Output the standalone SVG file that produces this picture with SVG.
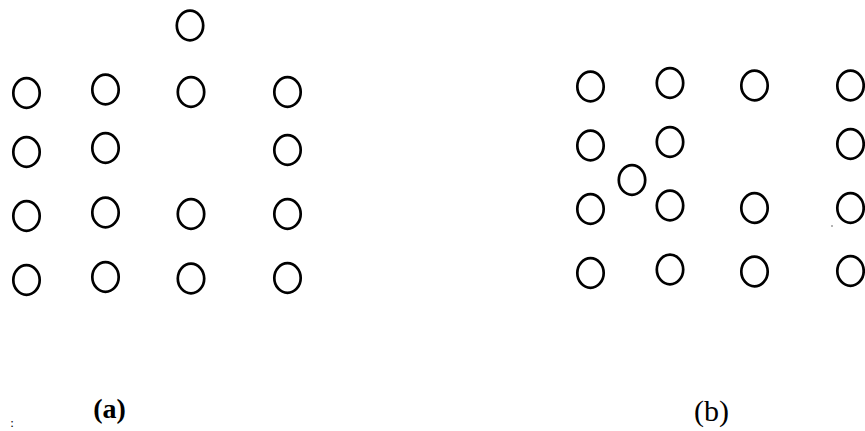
<svg xmlns="http://www.w3.org/2000/svg" width="865" height="431" viewBox="0 0 865 431">
<style>
.n{fill:none;stroke:#000;stroke-width:2.7}
.lbl{font-family:"Liberation Serif","Times New Roman",serif;fill:#000}
</style>
<rect width="865" height="431" fill="#fff"/>
<g id="panel-a">
<g id="a-top"><ellipse class="n" cx="190" cy="25.5" rx="13.2" ry="14.8"/></g>
<g id="a-r1c1"><ellipse class="n" cx="26.5" cy="93" rx="13.2" ry="14.8"/></g>
<g id="a-r1c2"><ellipse class="n" cx="105.5" cy="89.5" rx="13.2" ry="14.8"/></g>
<g id="a-r1c3"><ellipse class="n" cx="191" cy="92" rx="13.2" ry="14.8"/></g>
<g id="a-r1c4"><ellipse class="n" cx="287.5" cy="92" rx="13.2" ry="14.8"/></g>
<g id="a-r2c1"><ellipse class="n" cx="26.5" cy="152" rx="13.2" ry="14.8"/></g>
<g id="a-r2c2"><ellipse class="n" cx="105.5" cy="148" rx="13.2" ry="14.8"/></g>
<g id="a-r2c4"><ellipse class="n" cx="287.5" cy="150" rx="13.2" ry="14.8"/></g>
<g id="a-r3c1"><ellipse class="n" cx="26.5" cy="216" rx="13.2" ry="14.8"/></g>
<g id="a-r3c2"><ellipse class="n" cx="105.5" cy="212.5" rx="13.2" ry="14.8"/></g>
<g id="a-r3c3"><ellipse class="n" cx="191" cy="214" rx="13.2" ry="14.8"/></g>
<g id="a-r3c4"><ellipse class="n" cx="287.5" cy="214" rx="13.2" ry="14.8"/></g>
<g id="a-r4c1"><ellipse class="n" cx="26.5" cy="280" rx="13.2" ry="14.8"/></g>
<g id="a-r4c2"><ellipse class="n" cx="105.5" cy="277" rx="13.2" ry="14.8"/></g>
<g id="a-r4c3"><ellipse class="n" cx="191" cy="278.5" rx="13.2" ry="14.8"/></g>
<g id="a-r4c4"><ellipse class="n" cx="287.5" cy="278" rx="13.2" ry="14.8"/></g>
</g>
<g id="panel-b">
<g id="b-r1c1"><ellipse class="n" cx="590.5" cy="86.5" rx="13.2" ry="14.8"/></g>
<g id="b-r1c2"><ellipse class="n" cx="670" cy="83" rx="13.2" ry="14.8"/></g>
<g id="b-r1c3"><ellipse class="n" cx="754.5" cy="85.5" rx="13.2" ry="14.8"/></g>
<g id="b-r1c4"><ellipse class="n" cx="850.5" cy="85.5" rx="13.2" ry="14.8"/></g>
<g id="b-r2c1"><ellipse class="n" cx="590.5" cy="145.5" rx="13.2" ry="14.8"/></g>
<g id="b-r2c2"><ellipse class="n" cx="670" cy="142" rx="13.2" ry="14.8"/></g>
<g id="b-r2c4"><ellipse class="n" cx="850.5" cy="144" rx="13.2" ry="14.8"/></g>
<g id="b-extra"><ellipse class="n" cx="632" cy="180" rx="13.2" ry="14.8"/></g>
<g id="b-r3c1"><ellipse class="n" cx="590.5" cy="209" rx="13.2" ry="14.8"/></g>
<g id="b-r3c2"><ellipse class="n" cx="670" cy="205.5" rx="13.2" ry="14.8"/></g>
<g id="b-r3c3"><ellipse class="n" cx="754.5" cy="208" rx="13.2" ry="14.8"/></g>
<g id="b-r3c4"><ellipse class="n" cx="850.5" cy="208" rx="13.2" ry="14.8"/></g>
<g id="b-r4c1"><ellipse class="n" cx="590.5" cy="273" rx="13.2" ry="14.8"/></g>
<g id="b-r4c2"><ellipse class="n" cx="670" cy="269.5" rx="13.2" ry="14.8"/></g>
<g id="b-r4c3"><ellipse class="n" cx="754.5" cy="271.5" rx="13.2" ry="14.8"/></g>
<g id="b-r4c4"><ellipse class="n" cx="850.5" cy="271" rx="13.2" ry="14.8"/></g>
<circle cx="832" cy="226" r="0.8" fill="#555"/>
</g>
<g id="connectors"></g>
<g id="labels">
<text class="lbl" x="109.5" y="418" font-size="28" font-weight="bold" text-anchor="middle">(a)</text>
<text class="lbl" x="711.5" y="421" font-size="30" text-anchor="middle">(b)</text>
<text class="lbl" x="12" y="427" font-size="13" text-anchor="middle">:</text>
</g>
</svg>
